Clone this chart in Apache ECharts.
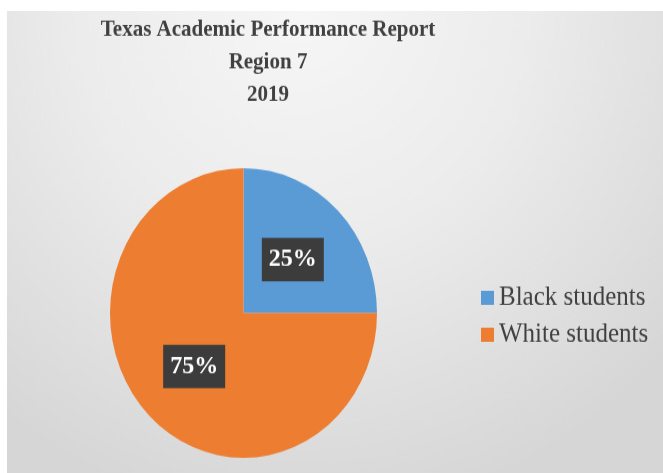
<!DOCTYPE html>
<html>
<head>
<meta charset="utf-8">
<script src="https://cdn.jsdelivr.net/npm/echarts@6/dist/echarts.min.js"></script>
<style>
  html, body { margin: 0; padding: 0; background: #ffffff; }
  #frame {
    position: absolute; left: 7px; top: 11px; width: 656px; height: 462px;
    background: radial-gradient(ellipse 75% 110% at 45% 0%, #f6f6f6 0%, #ececec 45%, #d6d6d6 100%);
  }
  #chart {
    position: absolute; left: 0; top: 0; width: 663px; height: 436px;
    transform: scaleY(1.085); transform-origin: 0 0;
  }
</style>
</head>
<body>
<div id="frame"></div>
<div id="chart"></div>
<script>
const titleLines = ['Texas Academic Performance Report', 'Region 7', '2019'];
const categories = ['Black students', 'White students'];
const values = [25, 75];
const colors = ['#5b9bd5', '#ed7d31'];

const chart = echarts.init(document.getElementById('chart'));
chart.setOption({
  backgroundColor: 'transparent',
  animation: false,
  title: {
    text: titleLines.join('\n'),
    left: 268,
    top: 13,
    padding: 0,
    textAlign: 'center',
    textStyle: {
      fontFamily: 'Liberation Serif',
      fontWeight: 'bold',
      fontSize: 21,
      lineHeight: 30,
      color: '#404040'
    }
  },
  legend: {
    orient: 'vertical',
    left: 481,
    top: 262,
    padding: 0,
    itemWidth: 13,
    itemHeight: 13,
    itemGap: 9,
    icon: 'rect',
    data: categories,
    textStyle: {
      fontFamily: 'Liberation Serif',
      fontSize: 25,
      color: '#404040'
    }
  },
  series: [{
    type: 'pie',
    center: [243.5, 288.5],
    radius: [0, 133.5],
    startAngle: 90,
    clockwise: true,
    label: {
      show: true,
      position: 'inside',
      formatter: '{d}%',
      fontFamily: 'Liberation Serif',
      fontWeight: 'bold',
      fontSize: 24,
      color: '#ffffff',
      backgroundColor: '#3c3c3c',
      padding: [8, 7, 8, 7]
    },
    labelLine: { show: false },
    itemStyle: { borderWidth: 0 },
    emphasis: { disabled: true },
    data: categories.map((c, i) => ({ name: c, value: values[i], itemStyle: { color: colors[i] } }))
  }]
});
</script>
</body>
</html>
